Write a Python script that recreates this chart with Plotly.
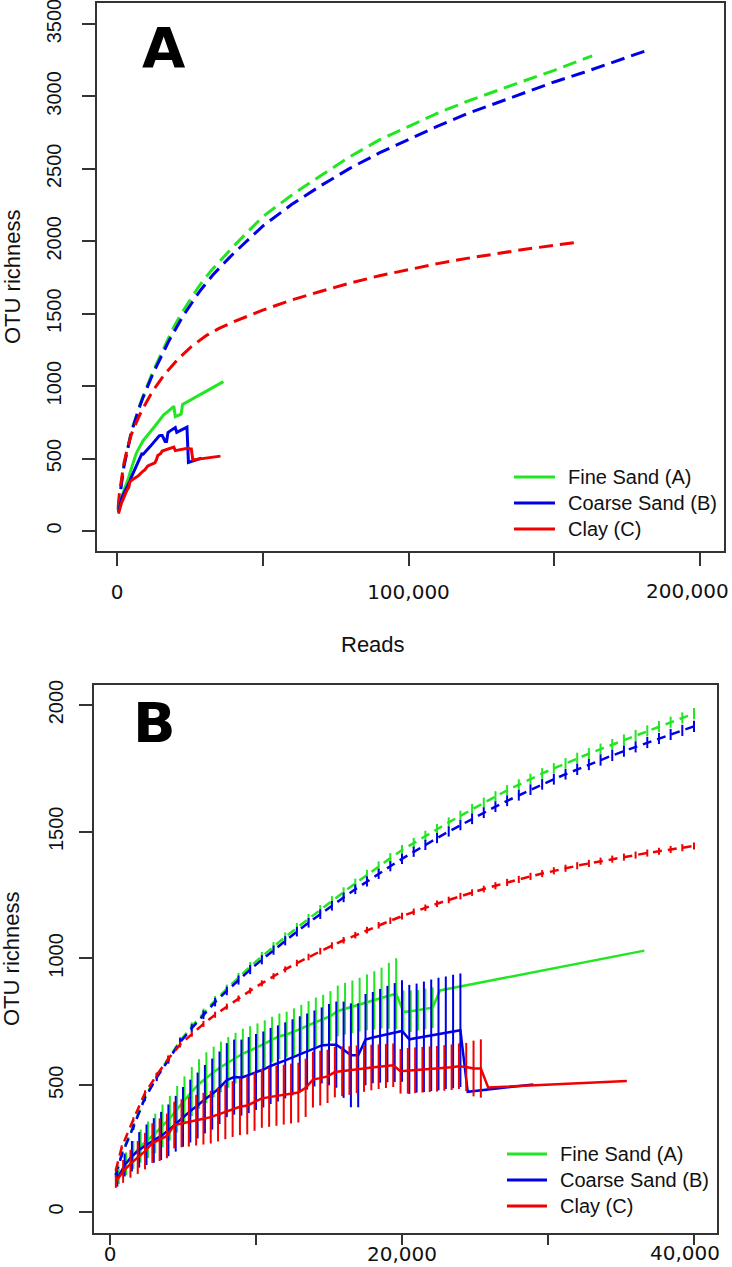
import plotly.graph_objects as go

W, H = 732, 1267

# ---------------- data ----------------
# extrapolated (dashed) richness curves, dense part shared by both panels
ext_reads = [400, 800, 1600, 2400, 3200, 4000, 4800, 5600, 6400, 7200, 8000, 8800, 9600,
             10400, 11200, 12000, 12800, 13600, 14400, 15200, 16000, 16800, 17600, 18400,
             19200, 20000, 20800, 21600, 22400, 23200, 24000, 24800, 25600, 26400, 27200,
             28000, 28800, 29600, 30400, 31200, 32000, 32800, 33600, 34400, 35200, 36000,
             36800, 37600, 38400, 39200, 40000]
ext_green = [150, 230, 340, 455, 535, 605, 675, 732, 785, 835, 880, 925, 968, 1008, 1047, 1085,
             1121, 1157, 1192, 1227, 1262, 1296, 1330, 1363, 1396, 1428, 1456, 1484, 1511, 1537,
             1563, 1589, 1614, 1639, 1663, 1686, 1708, 1730, 1750, 1770, 1790, 1808, 1826, 1844,
             1862, 1880, 1898, 1915, 1932, 1949, 1966]
ext_blue = [145, 225, 335, 450, 530, 600, 670, 725, 778, 828, 872, 915, 956, 995, 1033, 1070,
            1106, 1141, 1175, 1208, 1241, 1273, 1304, 1334, 1364, 1393, 1421, 1448, 1475, 1501,
            1526, 1551, 1575, 1599, 1622, 1644, 1666, 1687, 1707, 1727, 1746, 1765, 1783, 1801,
            1818, 1835, 1852, 1868, 1884, 1900, 1916]
ext_red = [165, 255, 365, 470, 540, 605, 660, 702, 742, 778, 810, 842, 873, 902, 930, 957,
           982, 1006, 1029, 1051, 1072, 1092, 1112, 1131, 1149, 1167, 1184, 1200, 1216, 1231,
           1246, 1260, 1274, 1287, 1300, 1312, 1324, 1335, 1346, 1356, 1366, 1375, 1384, 1392,
           1400, 1408, 1416, 1423, 1430, 1437, 1444]
ext_green_err = [8, 10, 12, 13, 14, 15, 16, 16, 17, 17, 17, 18, 18, 18, 18, 18, 19, 19, 19, 19,
                 19, 19, 20, 20, 20, 20, 20, 20, 20, 20, 20, 21, 21, 21, 21, 21, 21, 21, 21, 21,
                 22, 22, 22, 22, 22, 22, 22, 22, 22, 22, 22]
ext_blue_err = [8, 10, 12, 13, 14, 15, 16, 16, 17, 17, 17, 18, 18, 18, 18, 18, 19, 19, 19, 19,
                19, 19, 20, 20, 20, 20, 20, 20, 20, 20, 20, 21, 21, 21, 21, 21, 21, 21, 21, 21,
                22, 22, 22, 22, 22, 22, 22, 22, 22, 22, 22]
ext_red_err = [7, 8, 9, 10, 10, 11, 11, 11, 12, 12, 12, 12, 12, 12, 12, 12, 13, 13, 13, 13,
               13, 13, 13, 13, 13, 13, 13, 13, 13, 13, 13, 13, 13, 14, 14, 14, 14, 14, 14, 14,
               14, 14, 14, 14, 14, 14, 14, 14, 14, 14, 14]

# extrapolated curves beyond 40,000 reads (panel A only)
far_reads_green = [50000, 60000, 70000, 80000, 90000, 100000, 110000, 120000, 130000, 140000,
                   150000, 160000, 163000]
far_green = [2170, 2320, 2455, 2585, 2700, 2795, 2885, 2965, 3040, 3110, 3180, 3255, 3280]
far_reads_blue = [50000, 60000, 70000, 80000, 90000, 100000, 110000, 120000, 130000, 140000,
                  150000, 160000, 170000, 180000, 181000]
far_blue = [2105, 2255, 2385, 2505, 2610, 2705, 2795, 2880, 2955, 3030, 3100, 3165, 3235, 3305, 3312]
far_reads_red = [50000, 60000, 70000, 80000, 90000, 100000, 110000, 120000, 130000, 140000,
                 150000, 159000]
far_red = [1525, 1595, 1655, 1712, 1762, 1806, 1846, 1882, 1915, 1945, 1972, 1996]

# observed (solid) rarefaction curves with their spread
obs_reads_green = [500, 1000, 1500, 2000, 2500, 3000, 3500, 4000, 4500, 5000, 5500, 6000, 6500,
                   7000, 7500, 8000, 8500, 9000, 9500, 10000, 10500, 11000, 11500, 12000, 12500,
                   13000, 13500, 14000, 14500, 15000, 15500, 16000, 16500, 17000, 17500, 18000,
                   18500, 19000, 19500, 20000, 20500, 21000, 21500, 22000, 22500, 36500]
obs_green = [140, 190, 225, 260, 285, 310, 340, 370, 405, 440, 475, 505, 530, 552, 572, 590, 607,
             625, 637, 650, 664, 680, 693, 700, 711, 723, 737, 750, 760, 773, 793, 802, 809, 818,
             827, 835, 844, 853, 861, 789, 792, 796, 801, 806, 874, 1031]
obs_green_err = [30, 45, 55, 65, 72, 78, 84, 88, 92, 95, 97, 98, 100, 100, 100, 100, 100, 98, 96,
                 94, 92, 90, 90, 90, 92, 94, 95, 96, 97, 98, 100, 102, 104, 106, 110, 115, 120,
                 130, 140, 85, 82, 80, 80, 80, 0, 0]

obs_reads_blue = [500, 1000, 1500, 2000, 2500, 3000, 3500, 4000, 4500, 5000, 5500, 6000, 6500,
                  7000, 7500, 8000, 8500, 9000, 9500, 10000, 10500, 11000, 11500, 12000, 12500,
                  13000, 13500, 14000, 14500, 15000, 15500, 16000, 16500, 17000, 17500, 18000,
                  18500, 19000, 19500, 20000, 20500, 21000, 21500, 22000, 22500, 23000, 23500,
                  24000, 24500, 29000]
obs_blue = [130, 185, 220, 245, 265, 282, 300, 322, 348, 375, 398, 420, 445, 465, 490, 520, 532,
            530, 540, 552, 562, 576, 586, 598, 610, 622, 633, 645, 657, 660, 660, 640, 618, 618,
            680, 688, 695, 702, 708, 714, 681, 686, 691, 697, 702, 707, 712, 717, 474, 503]
obs_blue_err = [30, 45, 60, 70, 80, 88, 95, 102, 110, 118, 124, 130, 135, 140, 143, 146, 148,
                150, 150, 150, 150, 150, 150, 150, 150, 150, 150, 150, 150, 160, 170, 190, 205,
                205, 180, 180, 185, 190, 195, 200, 215, 215, 218, 220, 222, 222, 224, 224, 0, 0]

obs_reads_red = [500, 1000, 1500, 2000, 2500, 3000, 3500, 4000, 4500, 5000, 5500, 6000, 6500,
                 7000, 7500, 8000, 8500, 9000, 9500, 10000, 10500, 11000, 11500, 12000, 12500,
                 13000, 13500, 14000, 14500, 15000, 15500, 16000, 16500, 17000, 17500, 18000,
                 18500, 19000, 19500, 20000, 20500, 21000, 21500, 22000, 22500, 23000, 23500,
                 24000, 24500, 25000, 25500, 26000, 35500]
obs_red = [120, 160, 190, 215, 240, 272, 285, 300, 343, 350, 356, 362, 368, 374, 384, 395, 406,
           415, 420, 435, 448, 453, 458, 463, 467, 471, 490, 522, 528, 535, 552, 555, 558, 563,
           566, 570, 573, 576, 579, 555, 557, 559, 561, 563, 565, 568, 571, 575, 572, 566, 566,
           491, 517]
obs_red_err = [25, 45, 55, 65, 72, 78, 84, 88, 92, 95, 98, 100, 102, 104, 106, 108, 110, 112,
               114, 115, 116, 117, 118, 118, 118, 118, 115, 110, 108, 105, 100, 98, 96, 94, 92,
               90, 88, 87, 86, 88, 90, 90, 90, 90, 90, 90, 90, 90, 95, 110, 115, 0, 0]

labels = ["Fine Sand (A)", "Coarse Sand (B)", "Clay (C)"]

yticks_A = [0, 500, 1000, 1500, 2000, 2500, 3000, 3500]
xticks_A = [0, 50000, 100000, 150000, 200000]
xticklabels_A = ["0", "", "100,000", "", "200,000"]
yticks_B = [0, 500, 1000, 1500, 2000]
xticks_B = [0, 10000, 20000, 30000, 40000]
xticklabels_B = ["0", "", "20,000", "", "40,000"]

for a, b in [(ext_reads, ext_green), (ext_reads, ext_blue), (ext_reads, ext_red),
             (ext_reads, ext_green_err), (ext_reads, ext_blue_err), (ext_reads, ext_red_err),
             (far_reads_green, far_green), (far_reads_blue, far_blue), (far_reads_red, far_red),
             (obs_reads_green, obs_green), (obs_reads_green, obs_green_err),
             (obs_reads_blue, obs_blue), (obs_reads_blue, obs_blue_err),
             (obs_reads_red, obs_red), (obs_reads_red, obs_red_err)]:
    assert len(a) == len(b)

# ---------------- styling ----------------
GREEN, BLUE, RED = "#22e622", "#0000e6", "#f00000"
COLORS = [GREEN, BLUE, RED]
AXIS_COL = "#333333"
TXT = "#111111"
SANS = "Liberation Sans, Arial, sans-serif"
DEJAVU = "DejaVu Sans, sans-serif"


def px_x(p):
    return p / W


def px_y(p):
    return 1 - p / H


series = [
    (labels[0], GREEN, ext_green, ext_green_err, far_reads_green, far_green,
     obs_reads_green, obs_green, obs_green_err, 100),
    (labels[1], BLUE, ext_blue, ext_blue_err, far_reads_blue, far_blue,
     obs_reads_blue, obs_blue, obs_blue_err, 0),
    (labels[2], RED, ext_red, ext_red_err, far_reads_red, far_red,
     obs_reads_red, obs_red, obs_red_err, -100),
]

fig = go.Figure()

# Panel A
for name, col, ey, eerr, fx, fy, ox, oy, oerr, shift in series:
    fig.add_trace(go.Scatter(
        x=ext_reads + fx, y=ey + fy, mode="lines", xaxis="x", yaxis="y",
        line=dict(color=col, width=3, dash="14px,7px"), showlegend=False, hoverinfo="skip"))
for name, col, ey, eerr, fx, fy, ox, oy, oerr, shift in series:
    fig.add_trace(go.Scatter(
        x=ox, y=oy, mode="lines", xaxis="x", yaxis="y", name=name,
        line=dict(color=col, width=3), showlegend=False))

# Panel B
for name, col, ey, eerr, fx, fy, ox, oy, oerr, shift in series:
    fig.add_trace(go.Scatter(
        x=ext_reads, y=ey, mode="lines", xaxis="x2", yaxis="y2",
        line=dict(color=col, width=2.5, dash="9px,6px"),
        error_y=dict(type="data", array=eerr, visible=True, color=col, thickness=2, width=0),
        showlegend=False, hoverinfo="skip"))
for name, col, ey, eerr, fx, fy, ox, oy, oerr, shift in series:
    fig.add_trace(go.Scatter(
        x=[v + shift for v in ox], y=oy, mode="lines", xaxis="x2", yaxis="y2", name=name,
        line=dict(color=col, width=2.5),
        error_y=dict(type="data", array=oerr, visible=True, color=col, thickness=2, width=0),
        showlegend=False))

common_axis = dict(showline=True, mirror=True, linecolor=AXIS_COL, linewidth=1.5,
                   ticks="outside", tickcolor=AXIS_COL, tickwidth=1.5,
                   showgrid=False, zeroline=False, automargin=False,
                   ticklabeloverflow="allow")

# ---- texts ----
annotations = []
for txt, xc, yc in [("<b>A</b>", 164, 48), ("<b>B</b>", 154, 722)]:
    annotations.append(dict(text=txt, x=px_x(xc), y=px_y(yc), xref="paper", yref="paper",
                            showarrow=False, xanchor="center", yanchor="middle",
                            font=dict(family=DEJAVU, size=56, color="black")))
for txt, xc, yc, ang in [("OTU richness", 12, 277, -90), ("OTU richness", 12, 959, -90),
                         ("Reads", 373, 645, 0)]:
    annotations.append(dict(text=txt, x=px_x(xc), y=px_y(yc), xref="paper", yref="paper",
                            showarrow=False, xanchor="center", yanchor="middle", textangle=ang,
                            font=dict(family=SANS, size=22, color=TXT)))
# the outermost x labels sit slightly inside the right edge, as in the reference
for txt, xc, yc in [(xticklabels_A[-1], 687, 591), (xticklabels_B[-1], 685, 1253)]:
    annotations.append(dict(text=txt, x=px_x(xc), y=px_y(yc), xref="paper", yref="paper",
                            showarrow=False, xanchor="center", yanchor="middle",
                            font=dict(family=DEJAVU, size=20, color=TXT)))
xticklabels_A_axis = xticklabels_A[:-1] + [""]
xticklabels_B_axis = xticklabels_B[:-1] + [""]

# ---- legends (line key + label), one per panel ----
shapes = []
legend_boxes = [dict(key_x0=514, key_x1=555, text_x=566, row0=477),
                dict(key_x0=507, key_x1=547, text_x=558, row0=1154)]
ROW_STEP = 26
for box in legend_boxes:
    for i, (lab, col) in enumerate(zip(labels, COLORS)):
        yc = box["row0"] + i * ROW_STEP
        shapes.append(dict(type="line", xref="paper", yref="paper",
                           x0=px_x(box["key_x0"]), x1=px_x(box["key_x1"]),
                           y0=px_y(yc), y1=px_y(yc), line=dict(color=col, width=3)))
        annotations.append(dict(text=lab, x=px_x(box["text_x"]), y=px_y(yc),
                                xref="paper", yref="paper", showarrow=False,
                                xanchor="left", yanchor="middle",
                                font=dict(family=SANS, size=20, color=TXT)))

fig.update_layout(
    width=W, height=H, autosize=False,
    template="none",
    paper_bgcolor="white", plot_bgcolor="white",
    margin=dict(l=0, r=0, t=0, b=0),
    showlegend=False,
    xaxis=dict(domain=[px_x(97), px_x(724)], anchor="y", range=[-6861, 208233],
               tickmode="array", tickvals=xticks_A, ticktext=xticklabels_A_axis,
               ticklen=13, ticklabelstandoff=9,
               tickfont=dict(family=DEJAVU, size=20, color=TXT), **common_axis),
    yaxis=dict(domain=[px_y(551), px_y(3)], anchor="x", range=[-138, 3645],
               tickmode="array", tickvals=yticks_A, tickangle=-90,
               ticklen=13, ticklabelstandoff=13,
               tickfont=dict(family=SANS, size=20, color=TXT), **common_axis),
    xaxis2=dict(domain=[px_x(94), px_x(717)], anchor="y2", range=[-1096, 41575],
                tickmode="array", tickvals=xticks_B, ticktext=xticklabels_B_axis,
                ticklen=10, ticklabelstandoff=-8,
                tickfont=dict(family=DEJAVU, size=20, color=TXT), **common_axis),
    yaxis2=dict(domain=[px_y(1233), px_y(685)], anchor="x2", range=[-83, 2079],
                tickmode="array", tickvals=yticks_B, tickangle=-90,
                ticklen=13, ticklabelstandoff=8,
                tickfont=dict(family=SANS, size=20, color=TXT), **common_axis),
    annotations=annotations,
    shapes=shapes,
)

# remove the browser's default 8px body margin so the figure fills the window exactly
fig.write_html("out.html", config={"displayModeBar": False},
               post_script="document.body.style.margin='0px';")
